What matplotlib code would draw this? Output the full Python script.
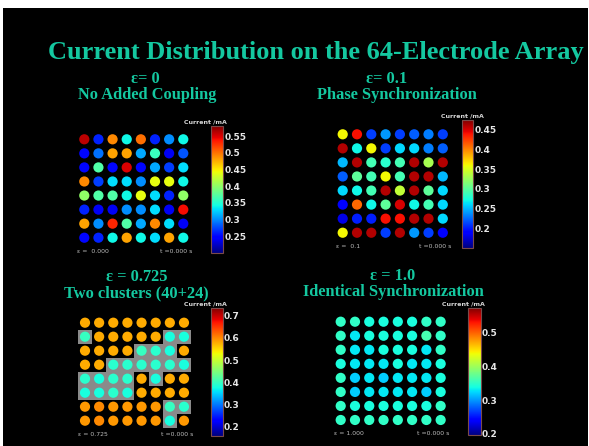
import numpy as np
import matplotlib
matplotlib.use("Agg")
import matplotlib.pyplot as plt
from matplotlib.patches import Rectangle
from matplotlib.colors import Normalize
from matplotlib.cm import ScalarMappable

W, H = 589, 446

title = "Current Distribution on the 64-Electrode Array"
teal = "#14c8a0"

# ---- data (current per electrode, mA), rows top->bottom ----
eps0 = [
    [0.56, 0.26, 0.49, 0.34, 0.50, 0.26, 0.30, 0.34],
    [0.25, 0.29, 0.48, 0.48, 0.31, 0.36, 0.24, 0.28],
    [0.25, 0.37, 0.25, 0.55, 0.25, 0.31, 0.27, 0.33],
    [0.49, 0.27, 0.33, 0.33, 0.30, 0.44, 0.44, 0.34],
    [0.40, 0.37, 0.37, 0.34, 0.44, 0.33, 0.26, 0.40],
    [0.26, 0.24, 0.24, 0.30, 0.30, 0.33, 0.24, 0.54],
    [0.48, 0.30, 0.53, 0.37, 0.31, 0.49, 0.33, 0.24],
    [0.25, 0.26, 0.34, 0.48, 0.34, 0.33, 0.48, 0.34],
]
eps01 = [
    [0.36, 0.44, 0.21, 0.24, 0.21, 0.22, 0.23, 0.21],
    [0.46, 0.27, 0.36, 0.21, 0.26, 0.26, 0.23, 0.22],
    [0.25, 0.46, 0.29, 0.28, 0.29, 0.46, 0.33, 0.46],
    [0.22, 0.30, 0.29, 0.36, 0.29, 0.46, 0.46, 0.25],
    [0.26, 0.27, 0.29, 0.46, 0.34, 0.46, 0.30, 0.26],
    [0.19, 0.41, 0.27, 0.30, 0.45, 0.27, 0.29, 0.26],
    [0.18, 0.20, 0.20, 0.44, 0.44, 0.46, 0.46, 0.26],
    [0.36, 0.46, 0.46, 0.21, 0.46, 0.24, 0.21, 0.19],
]
# cluster membership for eps=0.725 (1 = cyan cluster of 24)
clusters = [
    [0, 0, 0, 0, 0, 0, 0, 0],
    [1, 0, 0, 0, 0, 0, 1, 1],
    [0, 0, 0, 0, 1, 1, 1, 0],
    [0, 0, 1, 1, 1, 1, 1, 1],
    [1, 1, 1, 1, 0, 1, 0, 0],
    [1, 1, 1, 1, 0, 0, 0, 0],
    [0, 0, 0, 0, 0, 0, 1, 1],
    [0, 0, 0, 0, 0, 0, 1, 0],
]
eps0725 = [
    [0.58, 0.58, 0.58, 0.58, 0.58, 0.58, 0.58, 0.58],
    [0.40, 0.58, 0.58, 0.58, 0.58, 0.58, 0.38, 0.38],
    [0.58, 0.58, 0.58, 0.58, 0.40, 0.39, 0.38, 0.58],
    [0.58, 0.58, 0.39, 0.39, 0.39, 0.39, 0.39, 0.38],
    [0.39, 0.38, 0.39, 0.39, 0.58, 0.38, 0.58, 0.58],
    [0.38, 0.38, 0.39, 0.38, 0.58, 0.58, 0.58, 0.58],
    [0.59, 0.60, 0.59, 0.59, 0.59, 0.59, 0.40, 0.39],
    [0.59, 0.60, 0.59, 0.59, 0.59, 0.59, 0.38, 0.59],
]
eps1 = [
    [0.35, 0.35, 0.34, 0.34, 0.34, 0.34, 0.35, 0.35],
    [0.35, 0.33, 0.34, 0.34, 0.34, 0.34, 0.36, 0.35],
    [0.35, 0.33, 0.33, 0.34, 0.34, 0.34, 0.33, 0.35],
    [0.34, 0.33, 0.33, 0.33, 0.34, 0.33, 0.33, 0.34],
    [0.35, 0.32, 0.33, 0.32, 0.33, 0.33, 0.33, 0.34],
    [0.35, 0.32, 0.33, 0.33, 0.33, 0.33, 0.32, 0.34],
    [0.35, 0.34, 0.34, 0.34, 0.34, 0.34, 0.34, 0.35],
    [0.35, 0.35, 0.35, 0.35, 0.35, 0.35, 0.35, 0.35],
]

panel_eps_top = ["ε= 0", "ε= 0.1", "ε = 0.725", "ε = 1.0"]
panel_names = ["No Added Coupling", "Phase Synchronization",
               "Two clusters (40+24)", "Identical Synchronization"]
panel_eps_small = ["ε =  0.000", "ε =  0.1", "ε = 0.725", "ε = 1.000"]
time_label = "t =0.000 s"
cbar_ranges = [(0.20, 0.58), (0.15, 0.475), (0.16, 0.735), (0.197, 0.572)]
cbar_ticks = [[0.25, 0.3, 0.35, 0.4, 0.45, 0.5, 0.55],
              [0.2, 0.25, 0.3, 0.35, 0.4, 0.45],
              [0.2, 0.3, 0.4, 0.5, 0.6, 0.7],
              [0.2, 0.3, 0.4, 0.5]]
cbar_ticklabels = [["0.25", "0.3", "0.35", "0.4", "0.45", "0.5", "0.55"],
                   ["0.2", "0.25", "0.3", "0.35", "0.4", "0.45"],
                   ["0.2", "0.3", "0.4", "0.5", "0.6", "0.7"],
                   ["0.2", "0.3", "0.4", "0.5"]]
datasets = [eps0, eps01, eps0725, eps1]

# ---- layout (pixels) ----
grids = [(84.3, 139.3, 14.14, 14.06),
         (342.7, 134.3, 14.3, 14.06),
         (85.0, 322.7, 14.14, 14.0),
         (340.7, 321.7, 14.28, 14.04)]
cbars = [(210.7, 126, 12.6, 126.7),
         (461.7, 120, 11.6, 127.7),
         (210.7, 308, 12.0, 127.7),
         (467.7, 308, 13.0, 127.0)]
cbar_label_right = [227, 484, 227, 485]
eps_pos = [(145, 79), (387, 79), (137, 277), (393, 276)]
name_pos = [(147, 95), (397, 95), (136, 293), (393, 292)]

fig = plt.figure(figsize=(W / 100, H / 100), dpi=100)
fig.patch.set_facecolor("white")
fig.patches.append(Rectangle((3 / W, 0), 585 / W, (H - 8) / H,
                             transform=fig.transFigure, facecolor="black",
                             edgecolor="none", zorder=-10))


def ax_px(x0, y0, w, h):
    return fig.add_axes([x0 / W, 1 - (y0 + h) / H, w / W, h / H])


def fx(x):
    return x / W


def fy(y):
    return 1 - y / H


serif = ["Liberation Serif", "DejaVu Serif"]
fig.text(fx(316), fy(53), title, color=teal, fontsize=19, fontweight="bold",
         family=serif, ha="center", va="center")

cmap = plt.get_cmap("jet")
for i in range(4):
    data = np.array(datasets[i])
    gx, gy, sx, sy = grids[i]
    ax = ax_px(gx - sx / 2, gy - sy / 2, 8 * sx, 8 * sy)
    ax.set_facecolor("black")
    ax.set_xlim(-0.5, 7.5)
    ax.set_ylim(7.5, -0.5)
    ax.axis("off")
    vmin, vmax = cbar_ranges[i]
    norm = Normalize(vmin, vmax)
    rr, cc = np.mgrid[0:8, 0:8]
    if i == 2:
        cl = np.array(clusters)
        for r, c in zip(*np.nonzero(cl)):
            ax.add_patch(Rectangle((c - 0.5, r - 0.5), 1, 1,
                                   facecolor="#8a8a8a", edgecolor="none",
                                   zorder=1))
    ax.scatter(cc.ravel(), rr.ravel(), c=data.ravel(), cmap=cmap, norm=norm,
               s=54, linewidths=0, zorder=2)

    # colorbar
    cx, cy, cw, ch = cbars[i]
    cax = ax_px(cx, cy, cw, ch)
    sm = ScalarMappable(norm=norm, cmap=cmap)
    cb = fig.colorbar(sm, cax=cax)
    cb.set_ticks(cbar_ticks[i])
    cb.set_ticklabels(cbar_ticklabels[i])
    cb.outline.set_edgecolor("#7a4a4a")
    cb.outline.set_linewidth(0.8)
    cax.tick_params(length=0, pad=1, labelsize=6.5, labelcolor="#e6e6e6")
    for t in cax.get_yticklabels():
        t.set_fontweight("bold")
    fig.text(fx(cbar_label_right[i]), fy(cy - 2), "Current /mA",
             ha="right", va="bottom", fontsize=4.5, color="#d8d8d8",
             fontweight="bold")

    # small labels below grid
    bottom = gy + 7 * sy + 14
    fig.text(fx(gx - 7), fy(bottom), panel_eps_small[i], fontsize=4.4,
             color="#bdbdbd", ha="left", va="center")
    fig.text(fx(gx + 76), fy(bottom), time_label, fontsize=4.4,
             color="#bdbdbd", ha="left", va="center")

    # subtitles
    ex, ey = eps_pos[i]
    fig.text(fx(ex), fy(ey), panel_eps_top[i], color=teal, fontsize=11.8,
             fontweight="bold", family=serif, ha="center", va="center")
    nx, ny = name_pos[i]
    fig.text(fx(nx), fy(ny), panel_names[i], color=teal, fontsize=11.8,
             fontweight="bold", family=serif, ha="center", va="center")

fig.savefig("out.png", dpi=100, facecolor=fig.get_facecolor())
